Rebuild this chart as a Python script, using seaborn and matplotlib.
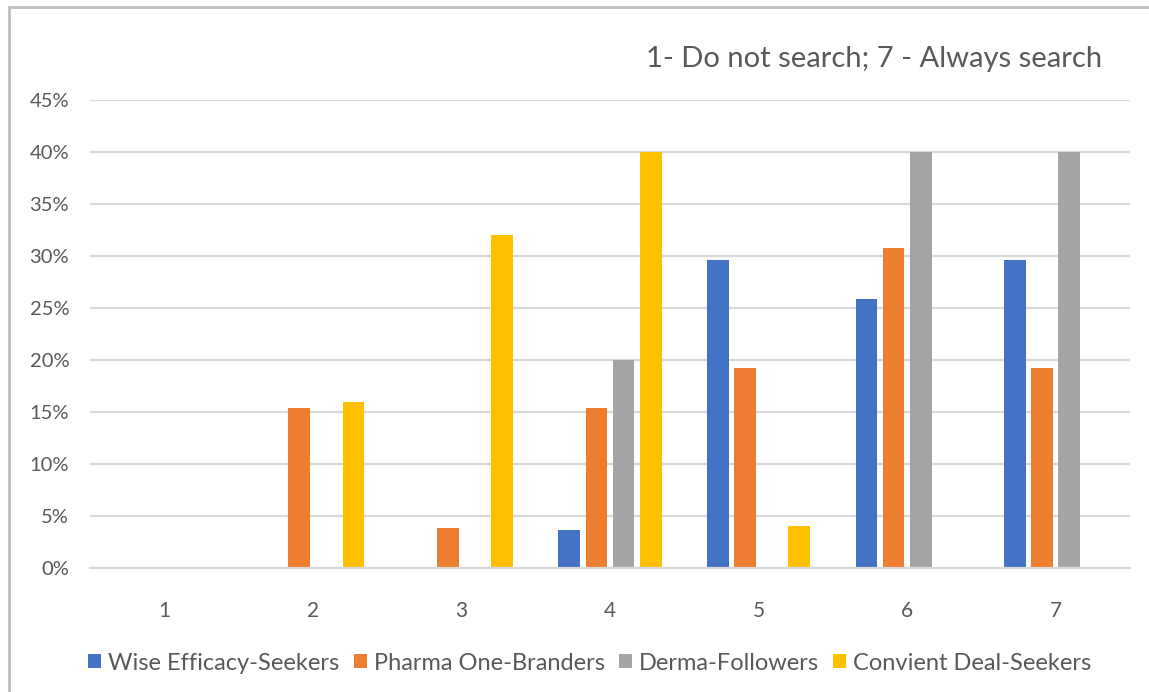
import matplotlib
matplotlib.use("Agg")
import matplotlib.pyplot as plt
from matplotlib.lines import Line2D
from matplotlib.patches import Patch
from matplotlib.ticker import PercentFormatter
import pandas as pd
import seaborn as sns

# Search frequency scale (1 = do not search, 7 = always search)
scale = ["1", "2", "3", "4", "5", "6", "7"]
segments = ["Wise Efficacy-Seekers", "Pharma One-Branders",
            "Derma-Followers", "Convient Deal-Seekers"]

wise = [0.0, 0.0, 0.0, 0.037, 0.296, 0.259, 0.296]
pharma = [0.0, 0.154, 0.038, 0.154, 0.192, 0.308, 0.192]
derma = [0.0, 0.0, 0.0, 0.20, 0.0, 0.40, 0.40]
deal = [0.0, 0.16, 0.32, 0.40, 0.04, 0.0, 0.0]

colors = ["#4472C4", "#ED7D31", "#A5A5A5", "#FFC000"]

rows = []
for seg, vals in zip(segments, [wise, pharma, derma, deal]):
    for s, v in zip(scale, vals):
        rows.append({"scale": s, "segment": seg, "share": v})
df = pd.DataFrame(rows)

sns.set_theme(style="white")
plt.rcParams["font.family"] = ["Lato", "DejaVu Sans"]
text_color = "#595959"
grid_color = "#D9D9D9"

fig = plt.figure(figsize=(11.49, 6.92), dpi=100)
ax = fig.add_axes([90 / 1149, 1 - 568 / 692, 1040 / 1149, 468 / 692])

sns.barplot(data=df, x="scale", y="share", hue="segment", order=scale,
            hue_order=segments, palette=colors, width=0.73, gap=0.2,
            saturation=1, edgecolor="none", ax=ax, legend=False)

ax.set_ylim(0, 0.45)
ax.set_yticks([i * 0.05 for i in range(10)])
ax.yaxis.set_major_formatter(PercentFormatter(1.0, decimals=0))
ax.set_xlim(-0.5, 6.5)
ax.set_axisbelow(True)
ax.grid(axis="y", color=grid_color, linewidth=1.6)
for side in ["left", "right", "top"]:
    ax.spines[side].set_visible(False)
ax.spines["bottom"].set_color(grid_color)
ax.spines["bottom"].set_linewidth(1.6)
ax.set_xlabel("")
ax.set_ylabel("")
ax.tick_params(axis="y", length=0, pad=15, labelsize=14.5, labelcolor=text_color)
ax.tick_params(axis="x", length=0, pad=24, labelsize=15, labelcolor=text_color)

fig.text(1102 / 1149, 1 - 59 / 692, "1- Do not search; 7 - Always search",
         ha="right", va="center", fontsize=21, color=text_color)

handles = [Patch(facecolor=c, edgecolor="none") for c in colors]
fig.legend(handles, segments, loc="center", bbox_to_anchor=(590 / 1149, 1 - 663 / 692),
           ncol=4, frameon=False, fontsize=17, labelcolor=text_color,
           handlelength=0.55, handleheight=0.55, handletextpad=0.3, columnspacing=0.6)

# Frame lines along the left and top edges
fig.add_artist(Line2D([8.5 / 1149, 8.5 / 1149], [0, 1 - 7 / 692],
                      transform=fig.transFigure, color="#BFBFBF", linewidth=2))
fig.add_artist(Line2D([8.5 / 1149, 1], [1 - 7 / 692, 1 - 7 / 692],
                      transform=fig.transFigure, color="#BFBFBF", linewidth=2))

fig.savefig("out.png", dpi=100, facecolor="white")
